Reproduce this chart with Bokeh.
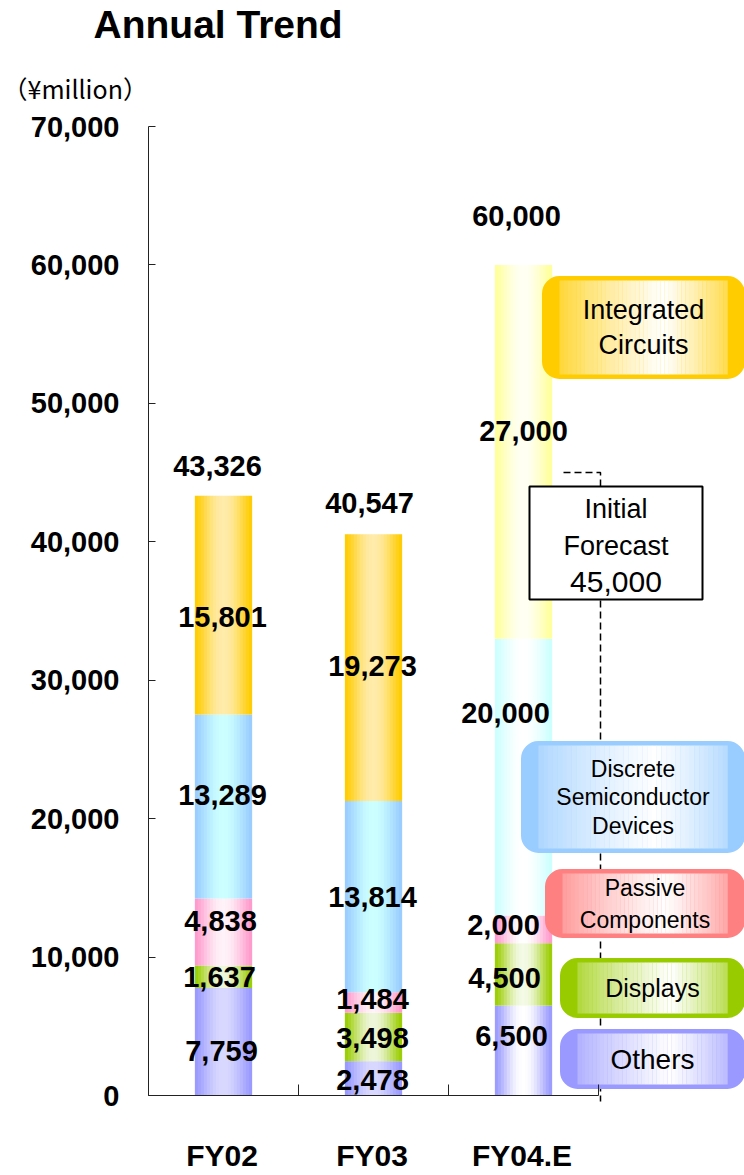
import numpy as np
from bokeh.plotting import figure
from bokeh.models import LinearAxis, FixedTicker, NumeralTickFormatter, Range1d, ColumnDataSource
from bokeh.core.properties import value
from bokeh.embed import file_html
from bokeh.resources import INLINE

# ---------------- data ----------------
categories = ["FY02", "FY03", "FY04.E"]
series = ["Others", "Displays", "Passive Components",
          "Discrete Semiconductor Devices", "Integrated Circuits"]
others = [7759, 2478, 6500]
displays = [1637, 3498, 4500]
passive = [4838, 1484, 2000]
discrete = [13289, 13814, 20000]
integrated = [15801, 19273, 27000]
totals = [43326, 40547, 60000]
initial_forecast = 45000
y_ticks = [0, 10000, 20000, 30000, 40000, 50000, 60000, 70000]
x_bounds_ticks = [0, 1, 2, 3]
chart_title = "Annual Trend"
unit_text = "（¥million）"
legend_lines = [["Others"], ["Displays"], ["Passive", "Components"],
                ["Discrete", "Semiconductor", "Devices"], ["Integrated", "Circuits"]]
forecast_lines = ["Initial", "Forecast", f"{initial_forecast:,}"]

# ---------------- style / layout ----------------
W, H = 744, 1175
FONT = "Liberation Sans"
AX_X, AX_Y = 148, 1095        # pixel position of the value/category axes
Y_PX = 969 / 70000.0          # pixels per unit on the value axis
X_PX = 150.0                  # pixels per category slot
BAR_W = 0.38
N_STRIP = 19

def hx(c):
    c = c.lstrip("#")
    return tuple(int(c[i:i + 2], 16) for i in (0, 2, 4))

def mix(c1, c2, w):
    a, b = hx(c1), hx(c2)
    return "#%02x%02x%02x" % tuple(int(round(x + (y - x) * w)) for x, y in zip(a, b))

def sx(px):   # pixel column -> x data
    return (px - AX_X) / X_PX

def sy(py):   # pixel row -> value
    return (AX_Y - py) / Y_PX

# (edge, centre) colours per series; forecast year is lighter
actual_cols = [("#9999FF", "#D8D8FF"), ("#99CC00", "#EEF6DA"), ("#FF99CC", "#FFF2F8"),
               ("#99CCFF", "#CCFFFF"), ("#FFCC00", "#FFEBAA")]
forecast_cols = [("#9999FF", "#FFFFFF"), ("#99CC00", "#F4FAE6"), ("#FF99CC", "#FFFFFF"),
                 ("#CCFFFF", "#FFFFFF"), ("#FFFF99", "#FFFFF4")]
bar_cols = [actual_cols, actual_cols, forecast_cols]

# label nudges in pixels (dx, dy) per category and series
lab_dx = [[-2, -4, -3, -1, -1], [-1, -1, -1, -1, -1], [-12, -19, -20, -18, 0]]
lab_dy = [[9, 0, -11, -11, 12], [2, 1, -4, 0, -2], [-15, 4, -4, -64, -21]]
tot_dx = [-6, -4, -7]
tot_dy = [-30, -31, -49]

p = figure(width=W, height=H, x_range=Range1d(sx(0), sx(W)), y_range=Range1d(sy(H), sy(0)),
           output_backend="svg", toolbar_location=None,
           x_axis_location=None, y_axis_location=None, min_border=0)
p.outline_line_color = None
p.xgrid.visible = False
p.ygrid.visible = False
p.background_fill_color = "white"
p.border_fill_color = "white"

# ---------------- axes ----------------
yaxis = LinearAxis(ticker=FixedTicker(ticks=y_ticks), formatter=NumeralTickFormatter(format="0,0"),
                   bounds=(0, 70000), fixed_location=0)
yaxis.major_tick_in = 7
yaxis.major_tick_out = 0
yaxis.minor_tick_line_color = None
yaxis.major_label_standoff = 29
yaxis.major_label_text_font = FONT
yaxis.major_label_text_font_size = "29px"
yaxis.major_label_text_font_style = "bold"
yaxis.major_label_text_color = "black"
yaxis.axis_line_color = "#222222"
yaxis.major_tick_line_color = "#222222"
p.add_layout(yaxis, "left")

xaxis = LinearAxis(ticker=FixedTicker(ticks=[], minor_ticks=x_bounds_ticks), bounds=(0, 3),
                   fixed_location=0)
xaxis.minor_tick_in = 11
xaxis.minor_tick_out = 0
xaxis.minor_tick_line_color = "#222222"
xaxis.major_tick_line_color = None
xaxis.axis_line_color = "#222222"
p.add_layout(xaxis, "below")

# ---------------- stacked bars (gradient strips) ----------------
stack = [others, displays, passive, discrete, integrated]
strips = dict(x=[], bottom=[], top=[], color=[])
labels = dict(x=[], y=[], text=[], dx=[], dy=[])
cum = [0.0, 0.0, 0.0]
for j, vals in enumerate(stack):
    for i in range(len(categories)):
        b = cum[i]
        t = b + vals[i]
        edge, centre = bar_cols[i][j]
        for k in range(N_STRIP):
            tt = (k + 0.5) / N_STRIP
            w = np.sin(np.pi * tt) ** 1.3
            strips["x"].append(i + 0.5 - BAR_W / 2 + (k + 0.5) * BAR_W / N_STRIP)
            strips["bottom"].append(b)
            strips["top"].append(t)
            strips["color"].append(mix(edge, centre, w))
        labels["x"].append(i + 0.5)
        labels["y"].append((b + t) / 2)
        labels["text"].append(f"{vals[i]:,}")
        labels["dx"].append(lab_dx[i][j])
        labels["dy"].append(lab_dy[i][j])
        cum[i] = t
p.vbar(x="x", width=BAR_W / N_STRIP * 1.1, bottom="bottom", top="top",
       fill_color="color", line_color=None, source=ColumnDataSource(strips))

# ---------------- initial forecast dashed line ----------------
p.line([sx(563), sx(600), sx(600)], [initial_forecast, initial_forecast, sy(1101)],
       line_color="black", line_width=1.5, line_dash="7 4")

# ---------------- legend boxes ----------------
legend_boxes = [  # left, right, top, bottom (pixels), font px, line spacing px, colour
    (561, 743, 1030, 1087, 28, 0, "#9999FF"),
    (561, 743, 959, 1016, 25, 0, "#99CC00"),
    (546, 743, 870, 936, 23, 32, "#FF8080"),
    (522, 743, 742, 851, 23, 28.5, "#99CCFF"),
    (543, 743, 277, 377, 27, 35, "#FFCC00"),
]
R_PX = 16
for (l, r, t, b, fs, sp, col), lines in zip(legend_boxes, legend_lines):
    p.quad(left=sx(l), right=sx(r), top=sy(t), bottom=sy(b), fill_color=col, line_color=col,
           line_width=3, border_radius=R_PX)
    M = 40
    xs0 = l + R_PX
    xs1 = r - R_PX
    swd = (xs1 - xs0) / M
    sl, sr, sc = [], [], []
    for k in range(M):
        a = xs0 + k * swd
        tt = ((a + swd / 2) - l) / (r - l)
        w = (tt / 0.6) if tt <= 0.6 else ((1 - tt) / 0.4)
        w = max(0.0, min(1.0, w)) ** 0.75
        sl.append(sx(a))
        sr.append(sx(a + swd * 1.05))
        sc.append(mix(col, "#FFFFFF", w))
    p.quad(left=sl, right=sr, top=sy(t + 3), bottom=sy(b - 3), fill_color=sc, line_color=None)
    cx = sx((l + r) / 2)
    cy = sy((t + b) / 2)
    n = len(lines)
    for m, line in enumerate(lines):
        off = (m - (n - 1) / 2) * sp
        p.text(x=[cx], y=[cy], text=[line], y_offset=off, text_align="center",
               text_baseline="middle", text_font=value(FONT), text_font_size=value(f"{fs}px"),
               text_color="black")

# ---------------- initial forecast box ----------------
fb = (529, 702, 486, 599)
p.quad(left=sx(fb[0]), right=sx(fb[1]), top=sy(fb[2]), bottom=sy(fb[3]), fill_color="white",
       line_color="black", line_width=2)
fcx = sx((fb[0] + fb[1]) / 2)
fcy = sy((fb[2] + fb[3]) / 2)
for line, off, fs in zip(forecast_lines, [-34, 3, 39], [27, 27, 30]):
    p.text(x=[fcx], y=[fcy], text=[line], y_offset=off, text_align="center",
           text_baseline="middle", text_font=value(FONT), text_font_size=value(f"{fs}px"),
           text_color="black")

# ---------------- value labels ----------------
p.text(x="x", y="y", text="text", x_offset="dx", y_offset="dy", source=ColumnDataSource(labels),
       text_align="center", text_baseline="middle", text_font=value(FONT),
       text_font_size=value("29px"), text_font_style="bold", text_color="black")
p.text(x=[i + 0.5 for i in range(len(categories))], y=totals,
       text=[f"{v:,}" for v in totals], x_offset=tot_dx, y_offset=tot_dy,
       text_align="center", text_baseline="middle", text_font=value(FONT),
       text_font_size=value("29px"), text_font_style="bold", text_color="black")

# ---------------- titles & category labels ----------------
p.text(x=[sx(93)], y=[sy(24)], text=[chart_title], text_align="left", text_baseline="middle",
       text_font=value(FONT), text_font_size=value("39px"), text_font_style="bold",
       text_color="black")
p.text(x=[sx(2)], y=[sy(87)], text=[unit_text], text_align="left", text_baseline="middle",
       text_font=value("Noto Sans CJK JP"), text_font_size=value("25px"), text_color="black")
p.text(x=[i + 0.5 - 0.01 for i in range(len(categories))], y=[sy(1155)] * len(categories),
       text=categories, text_align="center", text_baseline="middle", text_font=value(FONT),
       text_font_size=value("30px"), text_font_style="bold", text_color="black")

open("out.html", "w").write(file_html(p, INLINE))
